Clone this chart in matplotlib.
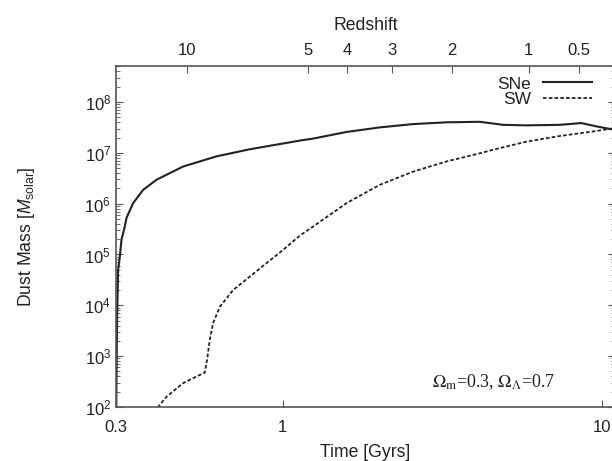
import numpy as np
import matplotlib
matplotlib.use("Agg")
import matplotlib.pyplot as plt
from matplotlib.ticker import LogLocator, NullFormatter, FixedLocator, FixedFormatter, NullLocator

plt.rcParams['font.family'] = ['Liberation Sans', 'DejaVu Sans']
plt.rcParams['mathtext.fontset'] = 'custom'
plt.rcParams['mathtext.rm'] = 'Liberation Sans'
plt.rcParams['mathtext.it'] = 'Liberation Sans:italic'

# SNe dust mass (solid)
sne_t = [0.300, 0.3023, 0.3046, 0.3083, 0.3121, 0.3197, 0.3236, 0.3395, 0.3648, 0.4018,
         0.487, 0.6196, 0.788, 1.13, 1.245, 1.584, 2.014, 2.561, 3.26, 4.146,
         4.905, 5.81, 7.38, 8.63, 9.62, 10.59, 11.0]
sne_logm = [1.5, 3.71, 4.70, 4.95, 5.29, 5.55, 5.72, 6.01, 6.27, 6.47,
            6.73, 6.93, 7.07, 7.24, 7.28, 7.41, 7.50, 7.565, 7.60, 7.61,
            7.55, 7.54, 7.55, 7.585, 7.52, 7.47, 7.45]

# SW dust mass (dashed)
sw_t = [0.395, 0.4065, 0.4317, 0.487, 0.5364, 0.5693, 0.579, 0.5903, 0.6046, 0.6346,
        0.6984, 0.788, 0.889, 1.002, 1.13, 1.245, 1.584, 2.014, 2.561, 3.26,
        4.146, 4.563, 5.81, 7.38, 9.39, 10.59, 11.0]
sw_logm = [1.9, 2.0, 2.20, 2.47, 2.60, 2.675, 2.93, 3.32, 3.65, 3.97,
           4.30, 4.565, 4.83, 5.09, 5.37, 5.55, 6.01, 6.37, 6.63, 6.83,
           6.99, 7.06, 7.22, 7.33, 7.42, 7.47, 7.49]

# top axis: redshift labels and the cosmic times where they sit
z_labels = ['10', '5', '4', '3', '2', '1', '0.5']
z_times = [0.501, 1.200, 1.595, 2.201, 3.395, 5.905, 8.49]

x_ticks = [0.3, 1, 10]
x_ticklabels = ['0.3', '1', '10']

fig = plt.figure(figsize=(6.12, 4.61), dpi=100)
ax = fig.add_axes([116/612, 1-407/461, (615-116)/612, (407-66)/461])

line_col = '#222222'
ax.plot(sne_t, 10**np.array(sne_logm), color=line_col, lw=1.5, ls='-', label='SNe')
ax.plot(sw_t, 10**np.array(sw_logm), color=line_col, lw=1.3, ls=(0, (2.0, 1.2)), label='SW')

ax.set_xscale('log')
ax.set_yscale('log')
ax.set_xlim(0.3, 11.0)
ax.set_ylim(1e2, 5.1e8)

ax.xaxis.set_major_locator(FixedLocator(x_ticks))
ax.xaxis.set_major_formatter(FixedFormatter(x_ticklabels))
ax.xaxis.set_minor_locator(NullLocator())
ax.xaxis.set_minor_formatter(NullFormatter())
ax.yaxis.set_major_locator(LogLocator(base=10, numticks=20))
ax.yaxis.set_minor_locator(LogLocator(base=10, subs=np.arange(2, 10), numticks=20))
ax.yaxis.set_minor_formatter(NullFormatter())

spine_col = '#555555'
for s in ax.spines.values():
    s.set_color(spine_col)
    s.set_linewidth(1.2)
ax.tick_params(which='both', direction='in', colors=spine_col, labelcolor='#222222',
               labelsize=12, right=True, top=False)
ax.tick_params(which='major', length=5)
ax.tick_params(which='minor', length=3)
ax.tick_params(axis='x', pad=9)

ax.set_xlabel('Time [Gyrs]', fontsize=12.7, color='#222222', labelpad=7)
ax.set_ylabel(r'Dust Mass [$M_{\mathrm{solar}}$]', fontsize=12.7, color='#222222', labelpad=34)

ax2 = ax.twiny()
ax2.set_xscale('log')
ax2.set_xlim(ax.get_xlim())
ax2.xaxis.set_major_locator(FixedLocator(z_times))
ax2.xaxis.set_major_formatter(FixedFormatter(z_labels))
ax2.xaxis.set_minor_locator(NullLocator())
ax2.xaxis.set_minor_formatter(NullFormatter())
ax2.tick_params(which='both', direction='in', colors=spine_col, labelcolor='#222222',
                labelsize=12, length=5, pad=6)
for s in ax2.spines.values():
    s.set_visible(False)
ax2.set_xlabel('Redshift', fontsize=12.7, color='#222222', labelpad=9)

leg = ax.legend(loc='upper right', frameon=False, markerfirst=False, fontsize=12.5,
                handlelength=2.8, handletextpad=0.7, labelspacing=0.0,
                borderaxespad=0.2, bbox_to_anchor=(0.975, 1.0))
for t in leg.get_texts():
    t.set_color('#222222')

ax.text(0.88, 0.045, r'$\Omega_{\mathrm{m}}$=0.3, $\Omega_{\Lambda}$=0.7',
        transform=ax.transAxes, ha='right', va='bottom', fontsize=13,
        family='Liberation Serif', color='#222222', math_fontfamily='stix')

fig.savefig('out.png', dpi=100)
